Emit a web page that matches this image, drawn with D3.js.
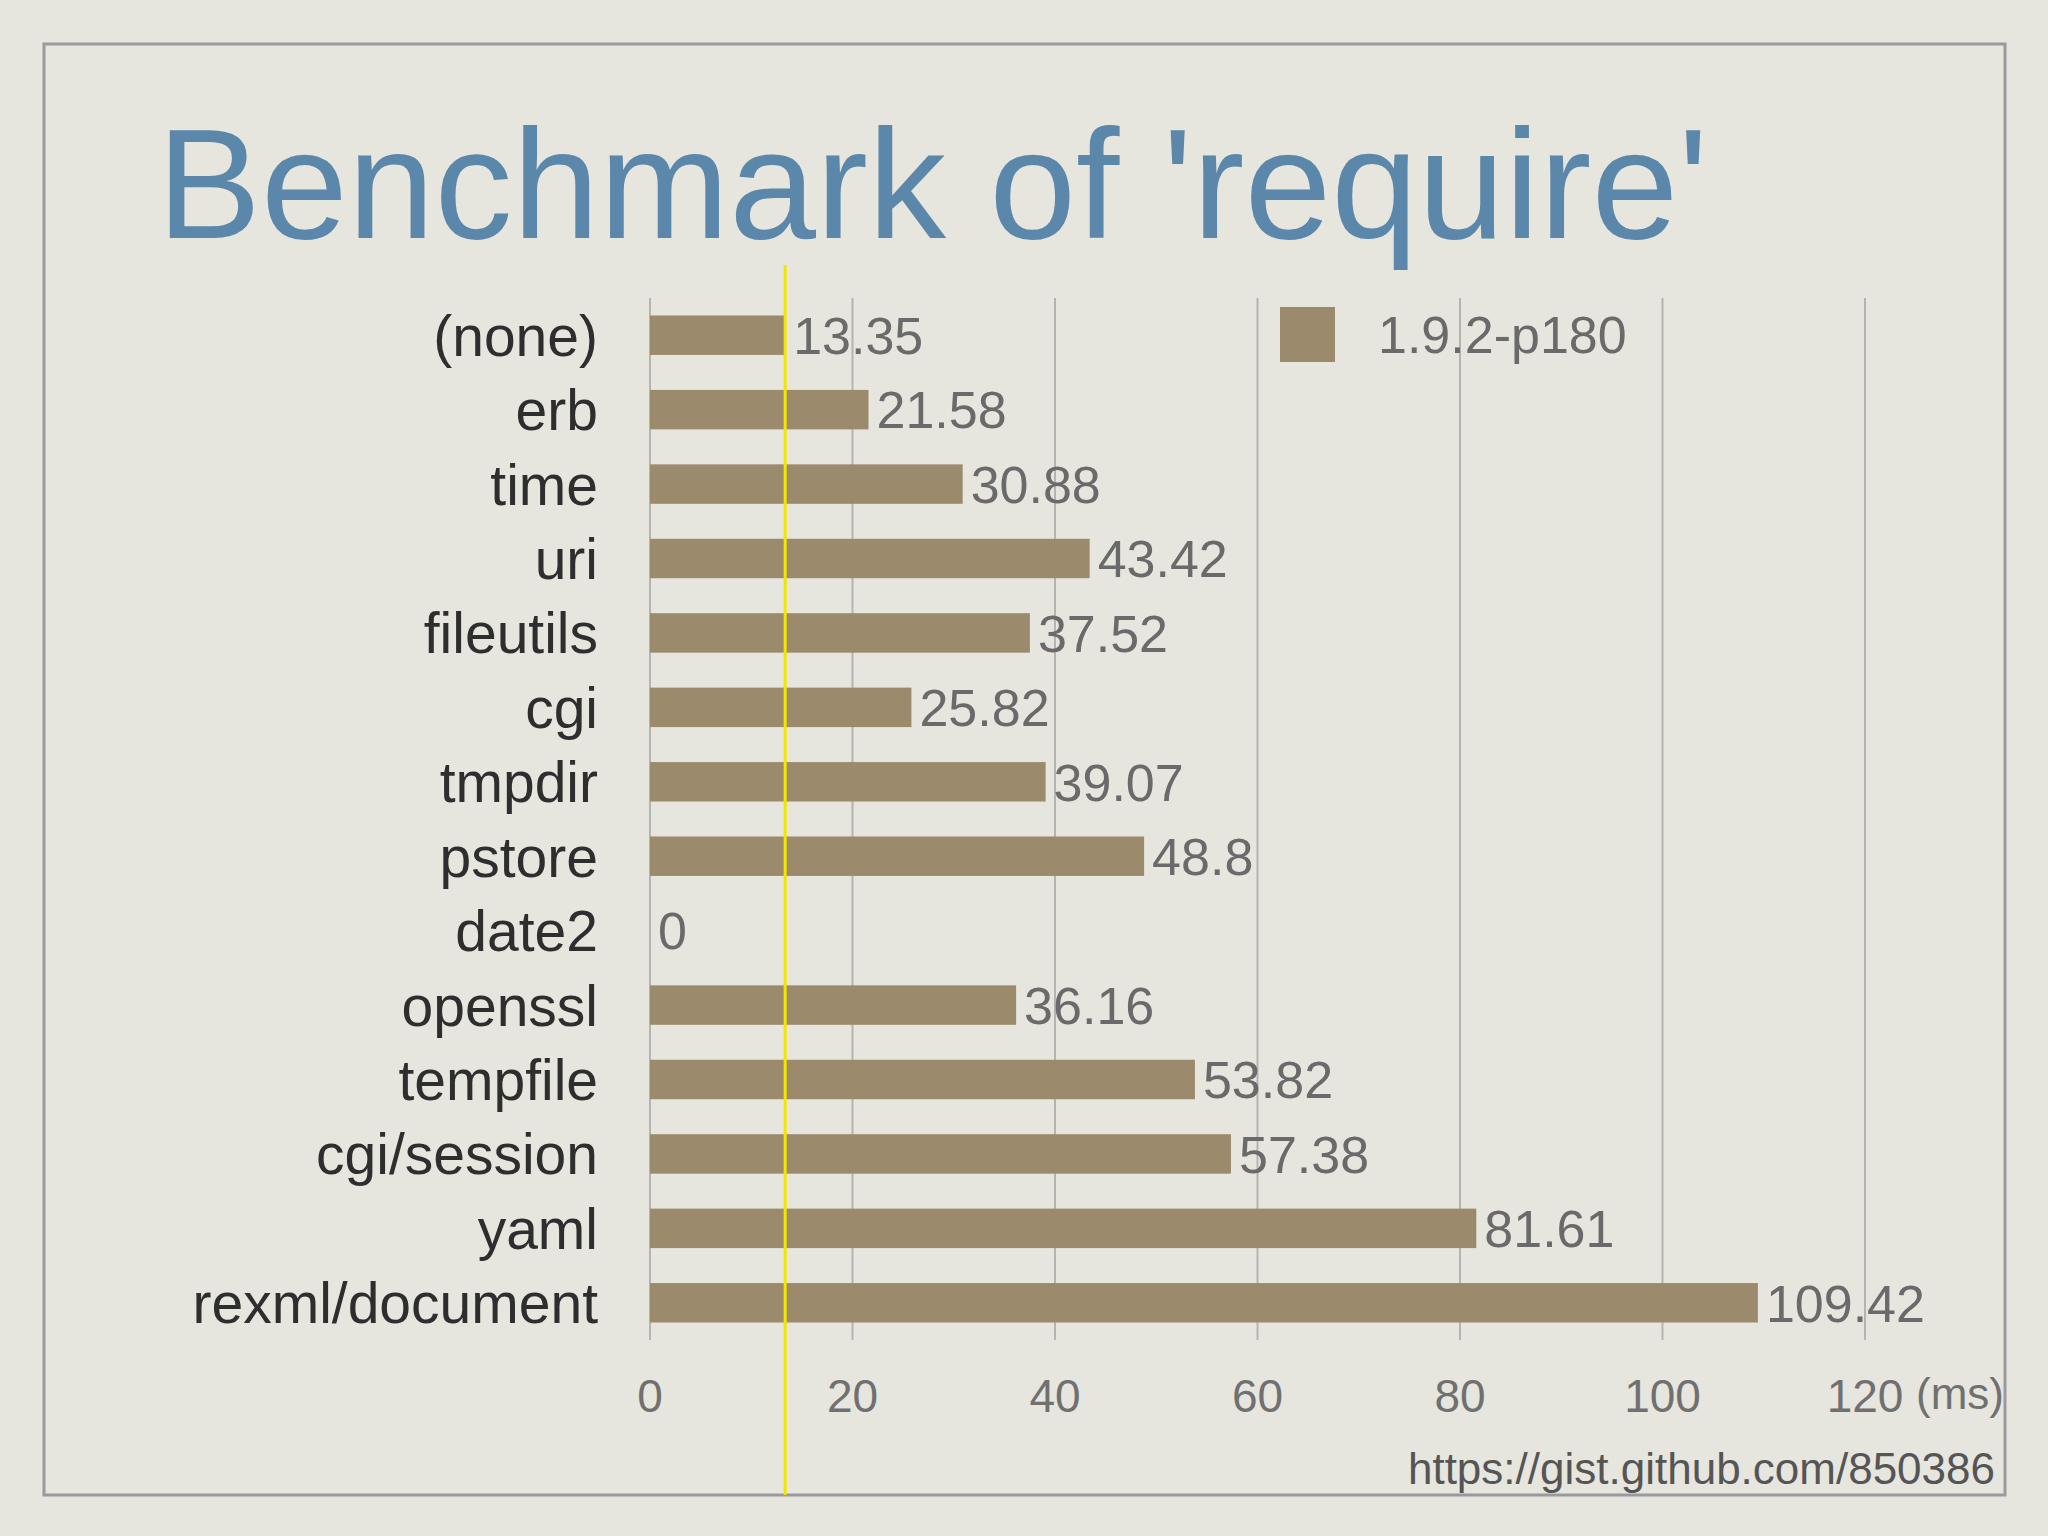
<!DOCTYPE html>
<html><head><meta charset="utf-8">
<script src="https://cdn.jsdelivr.net/npm/d3@7"></script>
<style>body{margin:0;background:#e6e5de}</style></head>
<body><svg id="c" width="2048" height="1536"></svg>
<script>
const categories=["(none)","erb","time","uri","fileutils","cgi","tmpdir","pstore","date2","openssl","tempfile","cgi/session","yaml","rexml/document"];
const values=[13.35,21.58,30.88,43.42,37.52,25.82,39.07,48.8,0,36.16,53.82,57.38,81.61,109.42];
const ticks=[0,20,40,60,80,100,120];
const seriesName="1.9.2-p180";
const svg=d3.select("#c");
const F="'Liberation Sans','Helvetica',sans-serif";
svg.append("rect").attr("width",2048).attr("height",1536).attr("fill","#e6e5de");
svg.append("rect").attr("x",44).attr("y",44).attr("width",1961).attr("height",1451).attr("fill","none").attr("stroke","#9a9a9c").attr("stroke-width",3);
svg.append("text").attr("x",157).attr("y",238).attr("font-family",F).attr("font-size",156).attr("fill","#5b88aa").text("Benchmark of 'require'");
const x=d3.scaleLinear().domain([0,120]).range([650,1865]);
const y=d3.scaleBand().domain(categories).range([298,1340]).paddingInner(0.47).paddingOuter(0.235);
svg.append("g").selectAll("line").data(ticks).join("line").attr("x1",d=>x(d)).attr("x2",d=>x(d)).attr("y1",298).attr("y2",1340).attr("stroke","#b5b4b0").attr("stroke-width",2);
svg.append("g").selectAll("rect").data(values).join("rect").attr("x",x(0)).attr("y",(d,i)=>y(categories[i])).attr("width",d=>x(d)-x(0)).attr("height",y.bandwidth()).attr("fill","#9c8a6c");
svg.append("g").selectAll("text").data(values).join("text").attr("x",d=>x(d)+8).attr("y",(d,i)=>y(categories[i])+y.bandwidth()/2).attr("dy","0.36em").attr("font-family",F).attr("font-size",52).attr("fill","#6a6a6a").text(d=>d);
svg.append("g").selectAll("text").data(categories).join("text").attr("x",598).attr("y",d=>y(d)+y.bandwidth()/2).attr("dy","0.36em").attr("text-anchor","end").attr("font-family",F).attr("font-size",57).attr("fill","#2e2e2e").text(d=>d);
svg.append("g").selectAll("text").data(ticks).join("text").attr("x",d=>x(d)).attr("y",1395).attr("dy","0.36em").attr("text-anchor","middle").attr("font-family",F).attr("font-size",46).attr("fill","#707070").text(d=>d);
svg.append("text").attr("x",1916).attr("y",1393).attr("dy","0.36em").attr("font-family",F).attr("font-size",44).attr("fill","#707070").text("(ms)");
svg.append("line").attr("x1",x(values[0])).attr("x2",x(values[0])).attr("y1",265).attr("y2",1495).attr("stroke","#f2e600").attr("stroke-width",3);
svg.append("rect").attr("x",1280).attr("y",307).attr("width",55).attr("height",55).attr("fill","#9c8a6c");
svg.append("text").attr("x",1378).attr("y",334).attr("dy","0.36em").attr("font-family",F).attr("font-size",52).attr("fill","#6a6a6a").text(seriesName);
svg.append("text").attr("x",1995).attr("y",1484).attr("text-anchor","end").attr("font-family",F).attr("font-size",44).attr("fill","#555").text("https://gist.github.com/850386");
</script></body></html>
